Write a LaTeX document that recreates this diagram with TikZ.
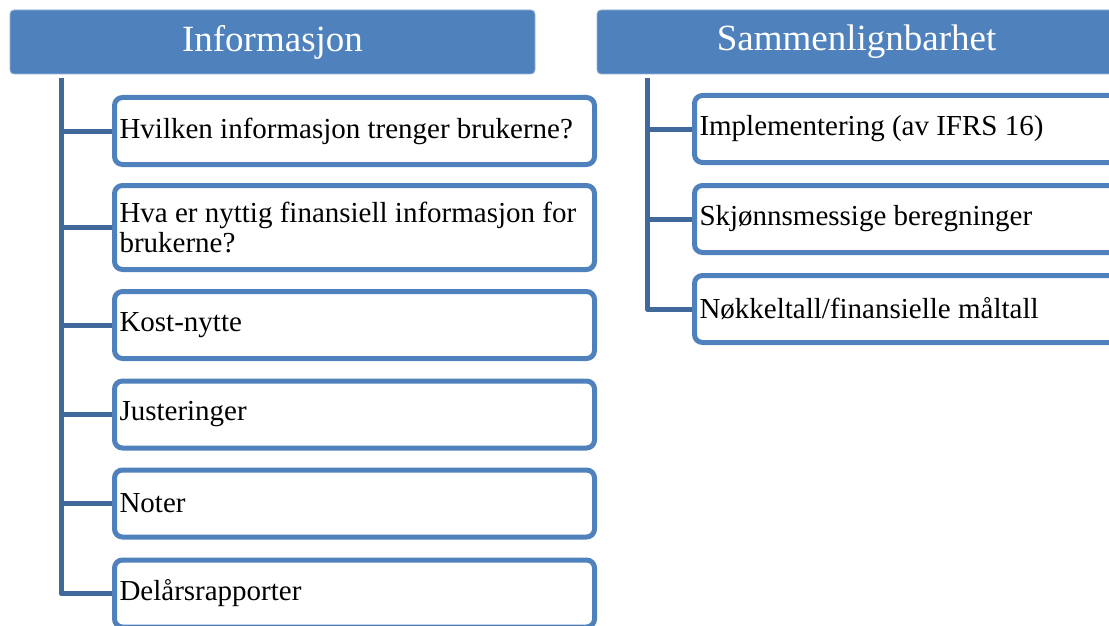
\documentclass[tikz,border=0pt]{standalone}
\usepackage{fontspec}
\setmainfont{Liberation Serif}
\definecolor{hdblue}{RGB}{79,129,189}
\definecolor{lnblue}{RGB}{64,104,154}
\begin{document}
\begin{tikzpicture}[x=1pt, y=-1pt, line join=round,
    head/.style={fill=hdblue, draw=hdblue!60!white, line width=.8pt, rounded corners=4pt,
      minimum height=64pt, text=white, font=\fontsize{37}{40}\selectfont, inner sep=0pt},
    item/.style={draw=hdblue, line width=5pt, rounded corners=8pt, fill=white,
      minimum height=67pt, inner xsep=5pt, inner ysep=0pt, align=flush left,
      font=\fontsize{29}{30}\selectfont},
    litem/.style={item, text width=470pt},
    ritem/.style={item, text width=413pt},
    link/.style={draw=lnblue, line width=5pt}]
  \clip (0,0) rectangle (1109,626);
  \fill[white] (0,0) rectangle (1109,626);
  % headers
  \node[head, minimum width=525pt] (hdinfo) at (272.5,42) {\raisebox{-2pt}{Informasjon}};
  \node[head, minimum width=519pt] (hdsamm) at (856.5,42) {\raisebox{-2pt}{Sammenlignbarhet}};
  % left column
  \node[litem] (i1) at (354.5,131) {Hvilken informasjon trenger brukerne?};
  \node[litem, minimum height=84pt] (i2) at (354.5,227.5) {Hva er nyttig finansiell informasjon for\\brukerne?};
  \node[litem] (i3) at (354.5,325) {Kost-nytte};
  \node[litem] (i4) at (354.5,414.5) {Justeringer};
  \node[litem] (i5) at (354.5,503.5) {Noter};
  \node[litem] (i6) at (354.5,593.5) {Delårsrapporter};
  % right column
  \node[ritem] (s1) at (906,129) {Implementering (av IFRS 16)};
  \node[ritem] (s2) at (906,219) {Skjønnsmessige beregninger};
  \node[ritem] (s3) at (906,309) {Nøkkeltall/finansielle måltall};
  % connectors
  \coordinate (ltop) at (61,78);
  \coordinate (rtop) at (647,78);
  \draw[link] (ltop) |- (i6.west);
  \draw[link] (i1.west) -- (i1.west -| ltop)
    (i2.west) -- (i2.west -| ltop)
    (i3.west) -- (i3.west -| ltop)
    (i4.west) -- (i4.west -| ltop)
    (i5.west) -- (i5.west -| ltop);
  \draw[link] (rtop) |- (s3.west);
  \draw[link] (s1.west) -- (s1.west -| rtop)
    (s2.west) -- (s2.west -| rtop);
\end{tikzpicture}
\end{document}
